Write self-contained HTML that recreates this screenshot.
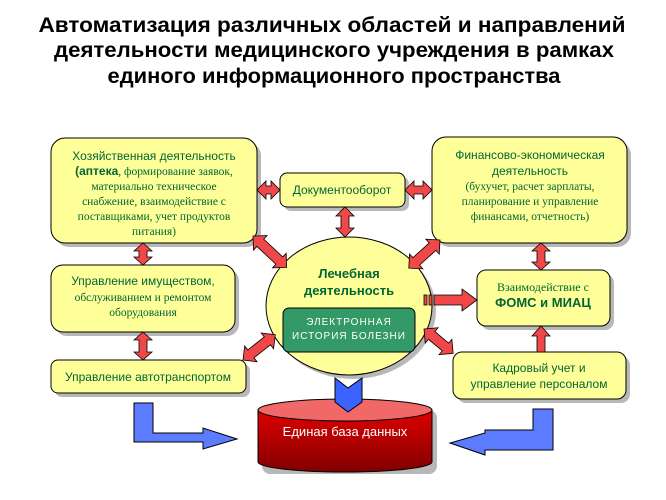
<!DOCTYPE html>
<html><head><meta charset="utf-8"><style>
html,body{margin:0;padding:0;background:#fff;}
svg{display:block;}
text{font-family:"Liberation Sans",sans-serif;}
.s{font-family:"Liberation Serif",serif;}
</style></head><body>
<svg width="666" height="500" viewBox="0 0 666 500" xmlns="http://www.w3.org/2000/svg">
<defs>
<linearGradient id="cyl" x1="0" y1="0" x2="0" y2="1">
<stop offset="0" stop-color="#e00000"/><stop offset="1" stop-color="#800000"/>
</linearGradient>
<g id="dbl">
<!-- double arrow along x from 0 to L=1 scaled; defined for length 30 -->
</g>
</defs>
<g font-weight="bold" font-size="21" fill="#000" text-anchor="middle">
<text x="332" y="32" textLength="587" lengthAdjust="spacingAndGlyphs">Автоматизация различных областей и направлений</text>
<text x="334" y="57" textLength="560" lengthAdjust="spacingAndGlyphs">деятельности медицинского учреждения в рамках</text>
<text x="334" y="83" textLength="453" lengthAdjust="spacingAndGlyphs">единого информационного пространства</text>
</g>

<!-- shadows -->
<g fill="#b8b8b8">
<rect x="55" y="142" width="206" height="105" rx="14"/>
<rect x="284" y="177" width="125" height="34" rx="7"/>
<rect x="436" y="141" width="195" height="106" rx="14"/>
<rect x="55" y="269" width="184" height="67" rx="12"/>
<rect x="55" y="364" width="195" height="33" rx="7"/>
<rect x="481" y="274" width="133" height="56" rx="9"/>
<rect x="457" y="356" width="173" height="47" rx="9"/>
<ellipse cx="353" cy="310" rx="83" ry="69"/>
<rect x="262" y="410" width="175" height="64" rx="8"/>
</g>

<!-- blue arrows -->
<g fill="#5b7cff" stroke="#000" stroke-width="1">
<polygon points="134,403 153,403 153,433 203,433 203,428 237,439 203,449 203,442 134,442"/>
<polygon points="533,409 553,409 553,450 485,450 485,455 450,443 485,433 485,430 533,430"/>
</g>

<!-- cylinder -->
<path d="M258,410 L258,462 A87,10 0 0 0 432,462 L432,410 Z" fill="url(#cyl)" stroke="#000"/>
<ellipse cx="345" cy="410" rx="87" ry="11" fill="#f06868" stroke="#000"/>
<text x="345" y="436" font-size="13" fill="#fff" text-anchor="middle">Единая база данных</text>

<!-- ellipse -->
<ellipse cx="349" cy="306" rx="83" ry="69" fill="#ffff99" stroke="#000"/>
<text x="349" y="278" font-size="13" font-weight="bold" fill="#063" text-anchor="middle">Лечебная</text>
<text x="349" y="295" font-size="13" font-weight="bold" fill="#063" text-anchor="middle">деятельность</text>
<rect x="283" y="308" width="132" height="44" rx="6" fill="#339966" stroke="#000"/>
<text x="349" y="325" font-size="10" fill="#fff" text-anchor="middle" letter-spacing="1">ЭЛЕКТРОННАЯ</text>
<text x="349" y="339" font-size="10" fill="#fff" text-anchor="middle" letter-spacing="1">ИСТОРИЯ БОЛЕЗНИ</text>

<!-- blue chevron -->
<polygon points="335,378 348,388 362,378 362,402 348,412 335,402" fill="#3b63ff" stroke="#000"/>

<!-- boxes -->
<g fill="#ffff99" stroke="#000" stroke-width="1">
<rect x="51" y="138" width="206" height="105" rx="14"/>
<rect x="280" y="173" width="125" height="34" rx="7"/>
<rect x="432" y="137" width="195" height="106" rx="14"/>
<rect x="51" y="265" width="184" height="67" rx="12"/>
<rect x="51" y="360" width="195" height="33" rx="7"/>
<rect x="477" y="270" width="133" height="56" rx="9"/>
<rect x="453" y="352" width="173" height="47" rx="9"/>
</g>

<g fill="#063" text-anchor="middle" font-size="12">
<text x="154" y="160">Хозяйственная деятельность</text>
<text x="154" y="175" class="s" font-size="11.5"><tspan font-family="Liberation Sans" font-weight="bold" font-size="12">(аптека</tspan>, формирование заявок,</text>
<text x="154" y="190" class="s" font-size="11.5">материально техническое</text>
<text x="154" y="205" class="s" font-size="11.5">снабжение, взаимодействие с</text>
<text x="154" y="220" class="s" font-size="11.5">поставщиками, учет продуктов</text>
<text x="154" y="235" class="s" font-size="11.5">питания)</text>

<text x="342" y="194">Документооборот</text>

<text x="530" y="159">Финансово-экономическая</text>
<text x="530" y="175">деятельность</text>
<text x="530" y="190" class="s" font-size="11.5">(бухучет, расчет зарплаты,</text>
<text x="530" y="205" class="s" font-size="11.5">планирование и управление</text>
<text x="530" y="220" class="s" font-size="11.5">финансами, отчетность)</text>

<text x="143" y="285">Управление имуществом,</text>
<text x="143" y="301" class="s" font-size="11.5">обслуживанием и ремонтом</text>
<text x="143" y="316" class="s" font-size="11.5">оборудования</text>

<text x="148" y="381">Управление автотранспортом</text>

<text x="543" y="291" class="s" font-size="12">Взаимодействие с</text>
<text x="543" y="307" font-size="13" font-weight="bold">ФОМС и МИАЦ</text>

<text x="539" y="372">Кадровый учет и</text>
<text x="539" y="388">управление персоналом</text>
</g>

<!-- red arrows -->
<g fill="#f04848" stroke="#000" stroke-width="0.8">
<!-- horizontal double arrows -->
<polygon points="257,190 266,181 266,186 271,186 271,181 280,190 271,199 271,194 266,194 266,199"/>
<polygon points="405,190 414,181 414,186 423,186 423,181 432,190 423,199 423,194 414,194 414,199"/>
<!-- vertical double arrows -->
<polygon points="345,207 354,216 349,216 349,228 354,228 345,237 336,228 341,228 341,216 336,216"/>
<polygon points="143,243 152,251 147,251 147,257 152,257 143,265 134,257 139,257 139,251 134,251"/>
<polygon points="143,332 152,340 147,340 147,352 152,352 143,360 134,352 139,352 139,340 134,340"/>
<polygon points="541,243 550,251 545,251 545,262 550,262 541,270 532,262 537,262 537,251 532,251"/>
<!-- single up arrow -->
<polygon points="541,326 550,336 545,336 545,352 537,352 537,336 532,336"/>
<!-- single right arrow -->
<polygon points="434,295 462,295 462,289 477,300 462,311 462,305 434,305"/>
<rect x="424" y="295" width="3" height="10"/><rect x="429" y="295" width="3" height="10"/>
</g>
<!-- diagonal double arrows -->
<g fill="#f04848" stroke="#000" stroke-width="0.8">
<polygon points="0,0 10,-10 10,-5 36,-5 36,-10 46,0 36,10 36,5 10,5 10,10" transform="translate(253,236) rotate(43)"/>
<polygon points="0,0 10,-10 10,-5 32,-5 32,-10 42,0 32,10 32,5 10,5 10,10" transform="translate(440,240) rotate(138)"/>
<polygon points="0,0 10,-10 10,-5 31,-5 31,-10 41,0 31,10 31,5 10,5 10,10" transform="translate(243,360) rotate(-38)"/>
<polygon points="0,0 10,-10 10,-5 28,-5 28,-10 38,0 28,10 28,5 10,5 10,10" transform="translate(424,329) rotate(40)"/>
</g>
</svg>
</body></html>
